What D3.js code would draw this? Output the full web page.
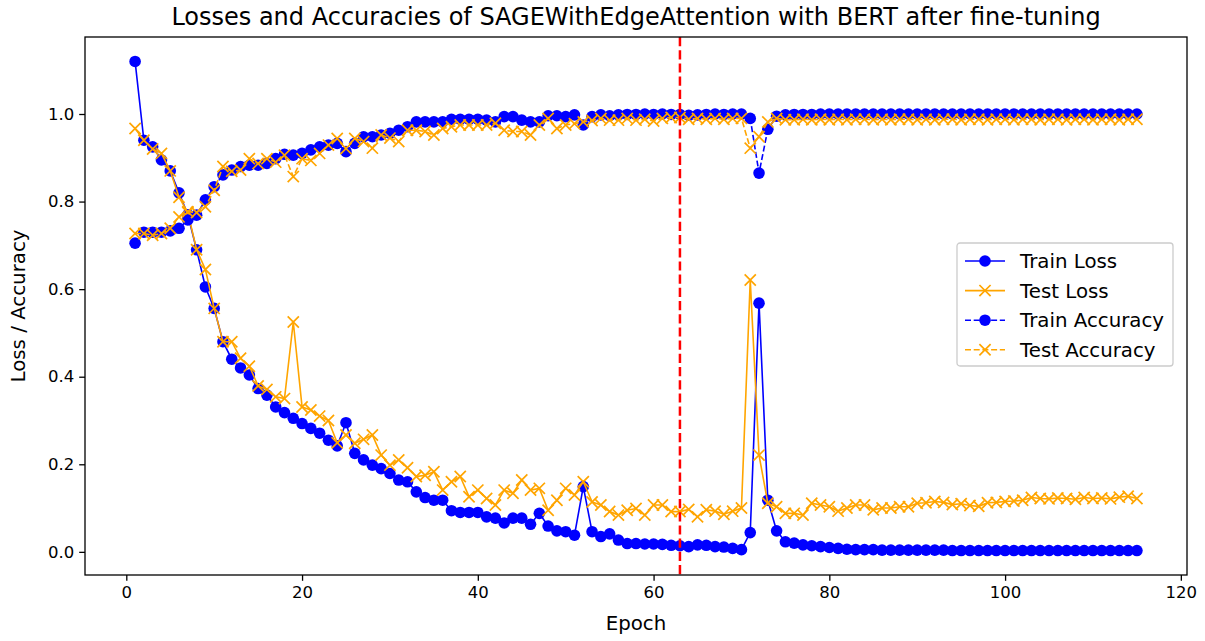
<!doctype html>
<html lang="en">
<head>
<meta charset="utf-8">
<title>Losses and Accuracies</title>
<script src="https://cdn.jsdelivr.net/npm/d3@7"></script>
<style>
  body { margin: 0; background: #fff; }
  svg { display: block; font-family: "DejaVu Sans", sans-serif; }
</style>
</head>
<body>
<svg id="chart" width="1205" height="641"></svg>
<script>
// epochs 1..115
var epochs = d3.range(1, 116);

var trainLoss = [1.12, 0.94, 0.925, 0.895, 0.87, 0.82, 0.77, 0.69, 0.605, 0.556,
  0.48, 0.44, 0.42, 0.404, 0.373, 0.358, 0.331, 0.318, 0.305, 0.293,
  0.282, 0.271, 0.255, 0.242, 0.295, 0.225, 0.21, 0.198, 0.19, 0.179,
  0.164, 0.16, 0.137, 0.124, 0.118, 0.118, 0.094, 0.09, 0.09, 0.09,
  0.08, 0.077, 0.066, 0.077, 0.077, 0.063, 0.088, 0.059, 0.048, 0.046,
  0.038, 0.149, 0.046, 0.035, 0.041, 0.027, 0.019, 0.019, 0.018, 0.018,
  0.017, 0.015, 0.014, 0.012, 0.016, 0.015, 0.012, 0.011, 0.008, 0.005,
  0.044, 0.568, 0.118, 0.048, 0.023, 0.02, 0.016, 0.014, 0.012, 0.01,
  0.008, 0.006, 0.005, 0.005, 0.005, 0.004, 0.004, 0.004, 0.004, 0.004,
  0.004, 0.004, 0.004, 0.003, 0.003, 0.003, 0.003, 0.003, 0.003, 0.003,
  0.003, 0.003, 0.003, 0.003, 0.003, 0.003, 0.003, 0.003, 0.003, 0.003,
  0.003, 0.003, 0.003, 0.003, 0.003];

var testLoss = [0.967, 0.94, 0.92, 0.91, 0.87, 0.81, 0.775, 0.69, 0.645, 0.556,
  0.48, 0.48, 0.442, 0.424, 0.379, 0.371, 0.354, 0.35, 0.525, 0.331,
  0.324, 0.31, 0.3, 0.249, 0.267, 0.248, 0.257, 0.267, 0.221, 0.198,
  0.21, 0.192, 0.172, 0.175, 0.183, 0.141, 0.16, 0.172, 0.126, 0.141,
  0.122, 0.107, 0.141, 0.134, 0.164, 0.141, 0.145, 0.095, 0.118, 0.145,
  0.13, 0.16, 0.114, 0.107, 0.092, 0.084, 0.095, 0.099, 0.084, 0.107,
  0.107, 0.092, 0.092, 0.097, 0.08, 0.096, 0.093, 0.086, 0.093, 0.1,
  0.621, 0.221, 0.111, 0.103, 0.088, 0.088, 0.084, 0.111, 0.107, 0.103,
  0.093, 0.1, 0.107, 0.107, 0.096, 0.1, 0.1, 0.103, 0.103, 0.111,
  0.112, 0.115, 0.113, 0.108, 0.11, 0.106, 0.104, 0.112, 0.113, 0.115,
  0.116, 0.118, 0.124, 0.122, 0.121, 0.123, 0.122, 0.12, 0.124, 0.122,
  0.123, 0.121, 0.125, 0.127, 0.122];

var trainAcc = [0.705, 0.73, 0.73, 0.73, 0.733, 0.739, 0.758, 0.769, 0.804, 0.834,
  0.861, 0.872, 0.88, 0.883, 0.883, 0.887, 0.898, 0.908, 0.906, 0.91,
  0.918, 0.925, 0.929, 0.933, 0.914, 0.933, 0.948, 0.948, 0.952, 0.956,
  0.963, 0.971, 0.982, 0.982, 0.982, 0.982, 0.988, 0.988, 0.988, 0.988,
  0.986, 0.982, 0.994, 0.994, 0.986, 0.982, 0.982, 0.996, 0.996, 0.994,
  0.998, 0.975, 0.994, 0.998, 0.996, 0.998, 0.999, 0.999, 1.0, 0.999,
  1.0, 0.999, 0.999, 0.997, 0.998, 0.999, 1.0, 0.999, 1.0, 1.0,
  0.99, 0.865, 0.965, 0.995, 0.998, 0.999, 0.999, 0.999, 1.0, 1.0,
  1.0, 1.0, 1.0, 1.0, 1.0, 1.0, 1.0, 1.0, 1.0, 1.0,
  1.0, 1.0, 1.0, 1.0, 1.0, 1.0, 1.0, 1.0, 1.0, 1.0,
  1.0, 1.0, 1.0, 1.0, 1.0, 1.0, 1.0, 1.0, 1.0, 1.0,
  1.0, 1.0, 1.0, 1.0, 1.0];

var testAcc = [0.727, 0.727, 0.723, 0.727, 0.739, 0.765, 0.777, 0.775, 0.788, 0.826,
  0.88, 0.869, 0.872, 0.898, 0.887, 0.898, 0.89, 0.906, 0.857, 0.898,
  0.894, 0.91, 0.929, 0.944, 0.921, 0.944, 0.937, 0.922, 0.952, 0.945,
  0.937, 0.963, 0.963, 0.96, 0.952, 0.967, 0.971, 0.975, 0.975, 0.975,
  0.975, 0.979, 0.963, 0.96, 0.96, 0.952, 0.975, 0.99, 0.967, 0.975,
  0.978, 0.982, 0.985, 0.99, 0.986, 0.986, 0.99, 0.986, 0.988, 0.984,
  0.99, 0.992, 0.992, 0.988, 0.99, 0.988, 0.99, 0.988, 0.99, 0.99,
  0.922, 0.948, 0.982, 0.99, 0.987, 0.987, 0.988, 0.987, 0.988, 0.987,
  0.988, 0.987, 0.988, 0.988, 0.987, 0.988, 0.987, 0.988, 0.988, 0.987,
  0.988, 0.987, 0.988, 0.988, 0.987, 0.988, 0.988, 0.987, 0.988, 0.988,
  0.987, 0.988, 0.988, 0.987, 0.988, 0.988, 0.987, 0.988, 0.988, 0.987,
  0.988, 0.988, 0.987, 0.988, 0.988];

var xTicks = [0, 20, 40, 60, 80, 100, 120];
var yTicks = [0.0, 0.2, 0.4, 0.6, 0.8, 1.0];
var splitEpoch = 63;

var series = [
  { name: "Train Loss", values: trainLoss, color: "#0000ff", dash: null, marker: "o" },
  { name: "Test Loss", values: testLoss, color: "#ffa500", dash: null, marker: "x" },
  { name: "Train Accuracy", values: trainAcc, color: "#0000ff", dash: "6,2.7", marker: "o" },
  { name: "Test Accuracy", values: testAcc, color: "#ffa500", dash: "6,2.7", marker: "x" }
];

var box = { left: 85, right: 1187, top: 37, bottom: 575 };
var svg = d3.select("#chart");

// matplotlib-like 5% margins
var xExt = d3.extent(epochs);
var xPad = (xExt[1] - xExt[0]) * 0.05;
var allVals = [].concat(trainLoss, testLoss, trainAcc, testAcc);
var yExt = d3.extent(allVals);
var yPad = (yExt[1] - yExt[0]) * 0.05;

var x = d3.scaleLinear().domain([xExt[0] - xPad, xExt[1] + xPad]).range([box.left, box.right]);
var y = d3.scaleLinear().domain([yExt[0] - yPad, yExt[1] + yPad]).range([box.bottom, box.top]);

// axes
var xAxis = svg.append("g")
  .attr("transform", "translate(0," + box.bottom + ")")
  .call(d3.axisBottom(x).tickValues(xTicks).tickFormat(d3.format("d")).tickSize(5.8).tickPadding(5));
var yAxis = svg.append("g")
  .attr("transform", "translate(" + box.left + ",0)")
  .call(d3.axisLeft(y).tickValues(yTicks).tickFormat(d3.format(".1f")).tickSize(5.8).tickPadding(5));

[xAxis, yAxis].forEach(function(g) {
  g.select(".domain").remove();
  g.selectAll(".tick line").attr("stroke", "#000").attr("stroke-width", 1.3);
  g.selectAll(".tick text").attr("fill", "#000").style("font-size", "16.5px")
    .style("font-family", "DejaVu Sans, sans-serif");
});

// lines + markers
svg.append("clipPath").attr("id", "clip").append("rect")
  .attr("x", box.left).attr("y", box.top)
  .attr("width", box.right - box.left).attr("height", box.bottom - box.top);

var plot = svg.append("g").attr("clip-path", "url(#clip)");

function drawMarker(g, kind, color, cx, cy) {
  if (kind === "o") {
    g.append("circle").attr("cx", cx).attr("cy", cy).attr("r", 5.8).attr("fill", color);
  } else {
    var s = 5.6;
    g.append("path")
      .attr("d", "M" + (cx - s) + "," + (cy - s) + "L" + (cx + s) + "," + (cy + s) +
        "M" + (cx - s) + "," + (cy + s) + "L" + (cx + s) + "," + (cy - s))
      .attr("stroke", color).attr("stroke-width", 1.7).attr("fill", "none");
  }
}

var line = d3.line().x(function(d) { return x(d[0]); }).y(function(d) { return y(d[1]); });

series.forEach(function(s) {
  var pts = epochs.map(function(e, i) { return [e, s.values[i]]; });
  var g = plot.append("g");
  g.append("path").datum(pts)
    .attr("d", line)
    .attr("fill", "none")
    .attr("stroke", s.color)
    .attr("stroke-width", 1.6)
    .attr("stroke-dasharray", s.dash);
  pts.forEach(function(p) { drawMarker(g, s.marker, s.color, x(p[0]), y(p[1])); });
});

// fine-tuning split
plot.append("line")
  .attr("x1", x(splitEpoch)).attr("x2", x(splitEpoch))
  .attr("y1", box.top).attr("y2", box.bottom)
  .attr("stroke", "#ff0000").attr("stroke-width", 2.5)
  .attr("stroke-dasharray", "9.2,4");

// frame
svg.append("rect")
  .attr("x", box.left).attr("y", box.top)
  .attr("width", box.right - box.left).attr("height", box.bottom - box.top)
  .attr("fill", "none").attr("stroke", "#000").attr("stroke-width", 1.3);

// labels
svg.append("text").attr("x", (box.left + box.right) / 2).attr("y", 25)
  .attr("text-anchor", "middle").style("font-size", "24px")
  .text("Losses and Accuracies of SAGEWithEdgeAttention with BERT after fine-tuning");
svg.append("text").attr("x", (box.left + box.right) / 2).attr("y", 630)
  .attr("text-anchor", "middle").style("font-size", "19.8px").text("Epoch");
svg.append("text")
  .attr("transform", "translate(25," + ((box.top + box.bottom) / 2) + ") rotate(-90)")
  .attr("text-anchor", "middle").style("font-size", "19.8px").text("Loss / Accuracy");

// legend
var leg = svg.append("g").attr("transform", "translate(957,243)");
leg.append("rect").attr("width", 216).attr("height", 123).attr("rx", 3)
  .attr("fill", "#fff").attr("fill-opacity", 0.8).attr("stroke", "#cccccc").attr("stroke-width", 1.3);
series.forEach(function(s, i) {
  var ry = 18 + i * 29.6;
  var row = leg.append("g");
  row.append("line").attr("x1", 8).attr("x2", 48).attr("y1", ry).attr("y2", ry)
    .attr("stroke", s.color).attr("stroke-width", 1.6).attr("stroke-dasharray", s.dash);
  drawMarker(row, s.marker, s.color, 28, ry);
  row.append("text").attr("x", 63).attr("y", ry + 7).style("font-size", "19.8px")
    .attr("fill", "#000").text(s.name);
});
</script>
</body>
</html>
